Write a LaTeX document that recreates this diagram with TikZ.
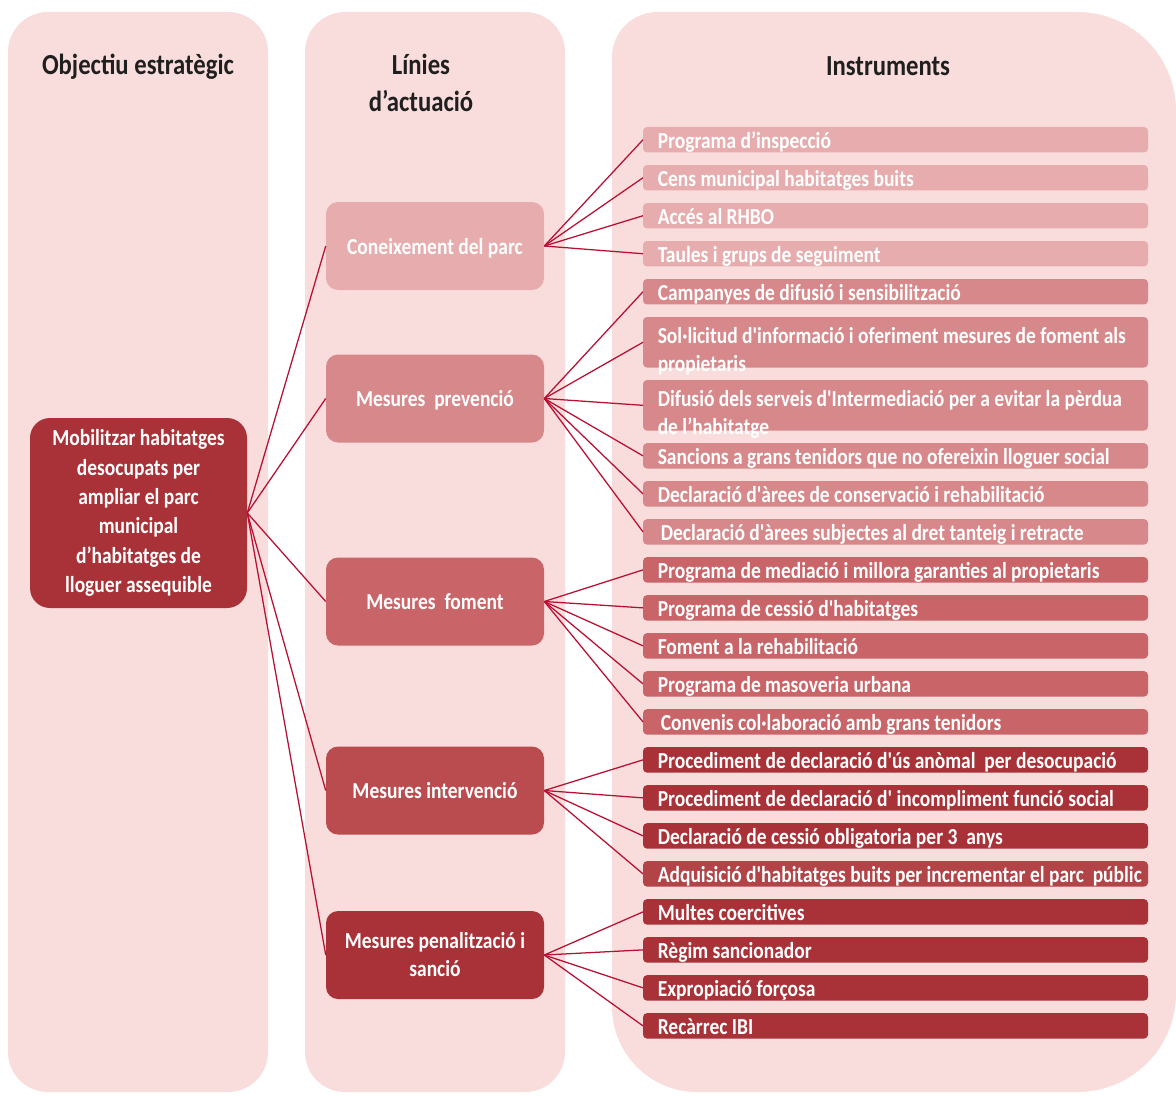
\documentclass[tikz,border=0pt]{standalone}
\usepackage{fontspec}
\setmainfont{Carlito}[FakeStretch=0.85,Ligatures=TeXOff]
\usetikzlibrary{positioning}

\definecolor{colbg}{RGB}{249,220,220}
\definecolor{lvla}{RGB}{231,173,174}
\definecolor{lvlb}{RGB}{215,136,138}
\definecolor{lvlc}{RGB}{201,101,104}
\definecolor{lvld}{RGB}{186,75,78}
\definecolor{lvle}{RGB}{168,50,55}
\definecolor{lvlf}{RGB}{178,67,71}
\definecolor{linkred}{RGB}{184,16,50}

\begin{document}
\begin{tikzpicture}[
  x=0.75pt, y=-0.75pt, node distance=9.4pt,
  colbox/.style={fill=colbg},
  head/.style={font=\fontsize{21.8}{27.8}\selectfont\bfseries,text=black!88,
               align=center,inner sep=0pt},
  goal/.style={fill=lvle,text=white,rounded corners=15pt,align=center,
               minimum width=162.75pt,minimum height=142.5pt,
               font=\fontsize{17.2}{22}\selectfont\bfseries},
  linia/.style={rounded corners=9pt,text=white,align=center,
                minimum width=163.5pt,minimum height=66pt,
                font=\fontsize{17.2}{21}\selectfont\bfseries},
  one/.style={text depth=0pt},
  bar/.style={rounded corners=3pt,minimum width=378.75pt,
              minimum height=19.1pt,inner sep=0pt,outer sep=0pt},
  dbl/.style={minimum height=37.9pt},
  itxt/.style={anchor=base west,inner sep=0pt,text=white,align=left,
               font=\fontsize{17.2}{21}\selectfont\bfseries},
  link/.style={draw=linkred,line width=0.95pt}]
\useasboundingbox (0,0) rectangle (1176,1095);

% three columns
\fill[colbox,rounded corners=30pt] (8,12) rectangle (268,1092);
\fill[colbox,rounded corners=30pt] (305,12) rectangle (565,1092);
\fill[colbox] (612,500)
  {[rounded corners=34pt] -- (612,12) -- (850,12)}
  {[rounded corners=74pt] -- (1176,12) -- (1176,560)}
  {[rounded corners=74pt] -- (1176,1092) -- (850,1092)}
  {[rounded corners=64pt] -- (612,1092) -- (612,500)} -- cycle;

\node[head,anchor=base] (hobj) at (138,75) {Objectiu estratègic};
\node[head,anchor=north] (hlin) at (421,54) {Línies\\d’actuació};
\node[head,anchor=base] (hins) at (888,76) {Instruments};

% objectiu
\node[goal] (goal) at (138.5,513) {Mobilitzar habitatges\\desocupats per\\ampliar el parc\\municipal\\d’habitatges de\\lloguer assequible};

% linies
\node[linia,one,fill=lvla] (kn) at (435,246) {Coneixement del parc};
\node[linia,one,fill=lvlb] (prev) at (435,398.5) {Mesures\ \ prevenció};
\node[linia,one,fill=lvlc] (fom) at (435,601.5) {Mesures\ \ foment};
\node[linia,one,fill=lvld] (intv) at (435,790.5) {Mesures intervenció};
\node[linia,fill=lvle] (pen) at (435,955) {Mesures penalització i\\sanció};

% instruments
\node[bar,fill=lvla,anchor=north] (i1) at (895.5,127) {};
\node[bar,fill=lvla,below=of i1] (i2) {};
\node[bar,fill=lvla,below=of i2] (i3) {};
\node[bar,fill=lvla,below=of i3] (i4) {};
\node[bar,fill=lvlb,below=of i4] (i5) {};
\node[bar,dbl,fill=lvlb,below=of i5] (i6) {};
\node[bar,dbl,fill=lvlb,below=of i6] (i7) {};
\node[bar,fill=lvlb,below=of i7] (i8) {};
\node[bar,fill=lvlb,below=of i8] (i9) {};
\node[bar,fill=lvlb,below=of i9] (i10) {};
\node[bar,fill=lvlc,below=of i10] (i11) {};
\node[bar,fill=lvlc,below=of i11] (i12) {};
\node[bar,fill=lvlc,below=of i12] (i13) {};
\node[bar,fill=lvlc,below=of i13] (i14) {};
\node[bar,fill=lvlc,below=of i14] (i15) {};
\node[bar,fill=lvle,below=of i15] (i16) {};
\node[bar,fill=lvle,below=of i16] (i17) {};
\node[bar,fill=lvle,below=of i17] (i18) {};
\node[bar,fill=lvlf,below=of i18] (i19) {};
\node[bar,fill=lvle,below=of i19] (i20) {};
\node[bar,fill=lvle,below=of i20] (i21) {};
\node[bar,fill=lvle,below=of i21] (i22) {};
\node[bar,fill=lvle,below=of i22] (i23) {};

\node[itxt] (t1) at ([shift={(14.5,-4)}]i1.south west) {Programa d’inspecció};
\node[itxt] (t2) at ([shift={(14.5,-4)}]i2.south west) {Cens municipal habitatges buits};
\node[itxt] (t3) at ([shift={(14.5,-4)}]i3.south west) {Accés al RHBO};
\node[itxt] (t4) at ([shift={(14.5,-4)}]i4.south west) {Taules i grups de seguiment};
\node[itxt] (t5) at ([shift={(14.5,-4)}]i5.south west) {Campanyes de difusió i sensibilització};
\node[itxt] (t6) at ([shift={(14.5,4)}]i6.south west) {Sol·licitud d'informació i oferiment mesures de foment als\\propietaris};
\node[itxt] (t7) at ([shift={(14.5,4)}]i7.south west) {Difusió dels serveis d'Intermediació per a evitar la pèrdua\\de l’habitatge};
\node[itxt] (t8) at ([shift={(14.5,-4)}]i8.south west) {Sancions a grans tenidors que no ofereixin lloguer social};
\node[itxt] (t9) at ([shift={(14.5,-4)}]i9.south west) {Declaració d'àrees de conservació i rehabilitació};
\node[itxt] (t10) at ([shift={(17.5,-4)}]i10.south west) {Declaració d'àrees subjectes al dret tanteig i retracte};
\node[itxt] (t11) at ([shift={(14.5,-4)}]i11.south west) {Programa de mediació i millora garanties al propietaris};
\node[itxt] (t12) at ([shift={(14.5,-4)}]i12.south west) {Programa de cessió d'habitatges};
\node[itxt] (t13) at ([shift={(14.5,-4)}]i13.south west) {Foment a la rehabilitació};
\node[itxt] (t14) at ([shift={(14.5,-4)}]i14.south west) {Programa de masoveria urbana};
\node[itxt] (t15) at ([shift={(17.5,-4)}]i15.south west) {Convenis col·laboració amb grans tenidors};
\node[itxt] (t16) at ([shift={(14.5,-4)}]i16.south west) {Procediment de declaració d'ús anòmal\ \ per desocupació};
\node[itxt] (t17) at ([shift={(14.5,-4)}]i17.south west) {Procediment de declaració d' incompliment funció social};
\node[itxt] (t18) at ([shift={(14.5,-4)}]i18.south west) {Declaració de cessió obligatoria per 3\ \ anys};
\node[itxt] (t19) at ([shift={(14.5,-4)}]i19.south west) {Adquisició d'habitatges buits per incrementar el parc\ \ públic};
\node[itxt] (t20) at ([shift={(14.5,-4)}]i20.south west) {Multes coercitives};
\node[itxt] (t21) at ([shift={(14.5,-4)}]i21.south west) {Règim sancionador};
\node[itxt] (t22) at ([shift={(14.5,-4)}]i22.south west) {Expropiació forçosa};
\node[itxt] (t23) at ([shift={(14.5,-4)}]i23.south west) {Recàrrec IBI};

% connectors
\draw[link] (goal.east) -- (kn.west);
\draw[link] (goal.east) -- (prev.west);
\draw[link] (goal.east) -- (fom.west);
\draw[link] (goal.east) -- (intv.west);
\draw[link] (goal.east) -- (pen.west);
\draw[link] (kn.east) -- (i1.west); \draw[link] (kn.east) -- (i2.west);
\draw[link] (kn.east) -- (i3.west); \draw[link] (kn.east) -- (i4.west);
\draw[link] (prev.east) -- (i5.west); \draw[link] (prev.east) -- (i6.west);
\draw[link] (prev.east) -- (i7.west); \draw[link] (prev.east) -- (i8.west);
\draw[link] (prev.east) -- (i9.west); \draw[link] (prev.east) -- (i10.west);
\draw[link] (fom.east) -- (i11.west); \draw[link] (fom.east) -- (i12.west);
\draw[link] (fom.east) -- (i13.west); \draw[link] (fom.east) -- (i14.west);
\draw[link] (fom.east) -- (i15.west);
\draw[link] (intv.east) -- (i16.west); \draw[link] (intv.east) -- (i17.west);
\draw[link] (intv.east) -- (i18.west); \draw[link] (intv.east) -- (i19.west);
\draw[link] (pen.east) -- (i20.west); \draw[link] (pen.east) -- (i21.west);
\draw[link] (pen.east) -- (i22.west); \draw[link] (pen.east) -- (i23.west);
\end{tikzpicture}
\end{document}
